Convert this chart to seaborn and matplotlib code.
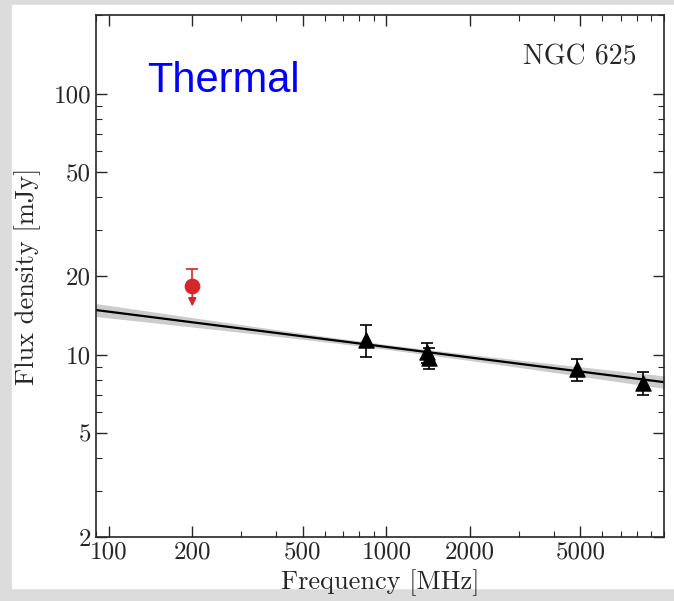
import numpy as np
import pandas as pd
import matplotlib
matplotlib.use("Agg")
import matplotlib.pyplot as plt
import matplotlib.ticker as mticker
from matplotlib.patches import Rectangle
import seaborn as sns

# ========== DATA ==========
freq_mhz = [843, 1400, 1420, 4850, 8400]
flux_mjy = [11.4, 10.2, 9.7, 8.8, 7.8]
flux_err = [1.6, 0.9, 0.9, 0.85, 0.8]

limit_freq = [200]
limit_flux = [18.3]
limit_err_up = [2.9]
limit_arrow_to = [15.3]

# fitted power law S = A * (nu / 1 GHz)^alpha
fit_A, fit_A_err_dex = 10.7, 0.0095
fit_alpha, fit_alpha_err = -0.135, 0.022

x_ticks = [100, 200, 500, 1000, 2000, 5000]
y_ticks = [2, 5, 10, 20, 50, 100]

# ========== STYLE ==========
sns.set_style("ticks")
plt.rcParams['font.family'] = ['cmr10', 'DejaVu Serif']
plt.rcParams['mathtext.fontset'] = 'cm'
plt.rcParams['axes.formatter.use_mathtext'] = True

fig = plt.figure(figsize=(6.74, 6.01), dpi=100, facecolor='#dcdcdc')
fig.patches.append(Rectangle((12 / 674, 13 / 601), 1, 1 - 18 / 601,
                             transform=fig.transFigure, color='white', zorder=-10))
ax = fig.add_axes([96 / 674, 64 / 601, 568 / 674, 522 / 601])
ax.set_xscale('log')
ax.set_yscale('log')

# fit line + band
nu = np.logspace(np.log10(80), np.log10(11000), 200)
lx = np.log10(nu / 1000.0)
logS = np.log10(fit_A) + fit_alpha * lx
sig = np.sqrt(fit_A_err_dex ** 2 + (fit_alpha_err * lx) ** 2)
ax.fill_between(nu, 10 ** (logS - sig), 10 ** (logS + sig), color='#cccccc', lw=0, zorder=1)
fit_df = pd.DataFrame({'nu': nu, 'S': 10 ** logS})
sns.lineplot(data=fit_df, x='nu', y='S', color='black', lw=1.6, ax=ax, zorder=2)

# measurements
ax.errorbar(freq_mhz, flux_mjy, yerr=flux_err, fmt='none', ecolor='black',
            elinewidth=1.2, capsize=4, capthick=1.2, zorder=3)
sns.scatterplot(x=freq_mhz, y=flux_mjy, marker='^', s=120, color='black',
                edgecolor='black', ax=ax, zorder=4)

# upper limit (red)
red = '#d62728'
ax.errorbar(limit_freq, limit_flux, yerr=[[0], limit_err_up], fmt='none',
            ecolor=red, elinewidth=1.2, capsize=4, capthick=1.2, zorder=3)
for f, s0, s1 in zip(limit_freq, limit_flux, limit_arrow_to):
    ax.annotate('', xy=(f, s1), xytext=(f, s0),
                arrowprops=dict(arrowstyle='-|>', color=red, lw=1.2,
                                mutation_scale=12, shrinkA=0, shrinkB=0), zorder=3)
sns.scatterplot(x=limit_freq, y=limit_flux, marker='o', s=110, color=red,
                edgecolor=red, ax=ax, zorder=4)

# axes
ax.set_xlim(90, 10000)
ax.set_ylim(2, 200)
ax.xaxis.set_major_locator(mticker.FixedLocator(x_ticks))
ax.xaxis.set_major_formatter(mticker.FixedFormatter([str(t) for t in x_ticks]))
ax.yaxis.set_major_locator(mticker.FixedLocator(y_ticks))
ax.yaxis.set_major_formatter(mticker.FixedFormatter([str(t) for t in y_ticks]))
ax.xaxis.set_minor_locator(mticker.LogLocator(base=10, subs=np.arange(1, 10)))
ax.yaxis.set_minor_locator(mticker.LogLocator(base=10, subs=np.arange(1, 10)))
ax.xaxis.set_minor_formatter(mticker.NullFormatter())
ax.yaxis.set_minor_formatter(mticker.NullFormatter())
ax.tick_params(which='both', direction='in', top=True, right=True, labelsize=18)
ax.tick_params(which='major', length=8, width=1)
ax.tick_params(which='minor', length=4, width=0.8)
ax.tick_params(axis='x', pad=3)
for sp in ax.spines.values():
    sp.set_linewidth(1.2)
    sp.set_visible(True)

ax.set_xlabel('Frequency [MHz]', fontsize=19, labelpad=4)
ax.set_ylabel('Flux density [mJy]', fontsize=19, labelpad=9)

ax.text(0.952, 0.945, 'NGC 625', transform=ax.transAxes, ha='right', va='top', fontsize=20)
ax.text(0.09, 0.874, 'Thermal', transform=ax.transAxes, ha='left', va='center',
        fontsize=30, color='blue', family=['Liberation Sans', 'DejaVu Sans'])

fig.savefig('out.png', dpi=100, facecolor=fig.get_facecolor())
